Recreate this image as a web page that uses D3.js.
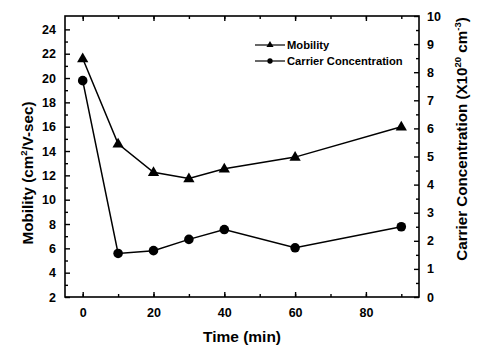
<!DOCTYPE html>
<html><head><meta charset="utf-8">
<script src="https://cdn.jsdelivr.net/npm/d3@7"></script>
<style>body{margin:0;background:#fff}svg{display:block;font-family:"Liberation Sans",Arial,sans-serif}</style>
</head><body><svg id="c" width="480" height="351"></svg>
<script>
const times = [0, 10, 20, 30, 40, 60, 90];
const mobility = [21.6, 14.6, 12.25, 11.75, 12.55, 13.5, 16.0];
const carrier = [7.7, 1.55, 1.65, 2.05, 2.4, 1.75, 2.5];
const xTicks = [0, 20, 40, 60, 80];
const leftTicks = [2, 4, 6, 8, 10, 12, 14, 16, 18, 20, 22, 24];
const rightTicks = [0, 1, 2, 3, 4, 5, 6, 7, 8, 9, 10];
const seriesNames = ["Mobility", "Carrier Concentration"];

const svg = d3.select("#c");
const L = 65, R = 419, T = 16, B = 297;
const x = d3.scaleLinear().domain([-5, 95]).range([L, R]);
const yL = d3.scaleLinear().domain([2, 25.1]).range([B, T]);
const yR = d3.scaleLinear().domain([0, 10]).range([B, T]);

const g = svg.append("g");
g.append("rect").attr("x", L).attr("y", T).attr("width", R - L).attr("height", B - T)
  .attr("fill", "none").attr("stroke", "#000").attr("stroke-width", 1.6);

const tickStyle = sel => {
  sel.select(".domain").remove();
  sel.selectAll("line").attr("stroke", "#000").attr("stroke-width", 1.4);
  sel.selectAll("text").attr("font-size", 12.5).attr("fill", "#000").attr("font-weight", "bold");
};
const xMinor = d3.range(0, 91, 10);
const lMinor = d3.range(3, 25, 2);
const rMinor = d3.range(0.5, 10, 1);

g.append("g").attr("transform", `translate(0,${B})`)
  .call(d3.axisBottom(x).tickValues(xTicks).tickSize(-5).tickPadding(11).tickFormat(d3.format("d"))).call(tickStyle);
g.append("g").attr("transform", `translate(0,${B})`)
  .call(d3.axisBottom(x).tickValues(xMinor).tickSize(-3).tickFormat("")).call(tickStyle);
g.append("g").attr("transform", `translate(0,${T})`)
  .call(d3.axisTop(x).tickValues(xTicks).tickSize(-5).tickFormat("")).call(tickStyle);
g.append("g").attr("transform", `translate(0,${T})`)
  .call(d3.axisTop(x).tickValues(xMinor).tickSize(-3).tickFormat("")).call(tickStyle);
g.append("g").attr("transform", `translate(${L},0)`)
  .call(d3.axisLeft(yL).tickValues(leftTicks).tickSize(-5).tickPadding(9).tickFormat(d3.format("d"))).call(tickStyle);
g.append("g").attr("transform", `translate(${L},0)`)
  .call(d3.axisLeft(yL).tickValues(lMinor).tickSize(-3).tickFormat("")).call(tickStyle);
g.append("g").attr("transform", `translate(${R},0)`)
  .call(d3.axisRight(yR).tickValues(rightTicks).tickSize(-5).tickPadding(8).tickFormat(d3.format("d"))).call(tickStyle);
g.append("g").attr("transform", `translate(${R},0)`)
  .call(d3.axisRight(yR).tickValues(rMinor).tickSize(-3).tickFormat("")).call(tickStyle);

const lineM = d3.line().x((d, i) => x(times[i])).y(d => yL(d));
const lineC = d3.line().x((d, i) => x(times[i])).y(d => yR(d));
g.append("path").attr("d", lineM(mobility)).attr("fill", "none").attr("stroke", "#000").attr("stroke-width", 1.5);
g.append("path").attr("d", lineC(carrier)).attr("fill", "none").attr("stroke", "#000").attr("stroke-width", 1.5);

const tri = d3.symbol().type(d3.symbolTriangle).size(55);
const circ = d3.symbol().type(d3.symbolCircle).size(72);
g.selectAll(".m").data(mobility).join("path")
  .attr("d", tri).attr("transform", (d, i) => `translate(${x(times[i])},${yL(d) + 0.5})`).attr("fill", "#000");
g.selectAll(".c").data(carrier).join("path")
  .attr("d", circ).attr("transform", (d, i) => `translate(${x(times[i])},${yR(d)})`).attr("fill", "#000");

const lg = g.append("g");
const lgY = [45, 61];
seriesNames.forEach((n, i) => {
  lg.append("line").attr("x1", 255).attr("x2", 285).attr("y1", lgY[i]).attr("y2", lgY[i]).attr("stroke", "#000").attr("stroke-width", 1.2);
  lg.append("path").attr("d", (i === 0 ? d3.symbol().type(d3.symbolTriangle).size(22) : d3.symbol().type(d3.symbolCircle).size(22))())
    .attr("transform", `translate(270,${lgY[i]})`).attr("fill", "#000");
  lg.append("text").attr("x", 287).attr("y", lgY[i] + 4).attr("font-size", 11.2).attr("font-weight", "bold").text(n);
});

svg.append("text").attr("x", 242).attr("y", 342).attr("text-anchor", "middle")
  .attr("font-size", 15.5).attr("font-weight", "bold").text("Time (min)");
const yt = svg.append("text").attr("transform", "translate(33,173) rotate(-90)").attr("text-anchor", "middle")
  .attr("font-size", 15.2).attr("font-weight", "bold");
yt.append("tspan").text("Mobility (cm");
yt.append("tspan").attr("font-size", 9.5).attr("dy", -6).text("2");
yt.append("tspan").attr("dy", 6).text("/V-sec)");
const rt = svg.append("text").attr("transform", "translate(467,139) rotate(-90)").attr("text-anchor", "middle")
  .attr("font-size", 15.2).attr("font-weight", "bold");
rt.append("tspan").text("Carrier Concentration (X10");
rt.append("tspan").attr("font-size", 9.5).attr("dy", -6).text("20");
rt.append("tspan").attr("dy", 6).text(" cm");
rt.append("tspan").attr("font-size", 9.5).attr("dy", -6).text("-3");
rt.append("tspan").attr("dy", 6).text(")");
</script></body></html>
